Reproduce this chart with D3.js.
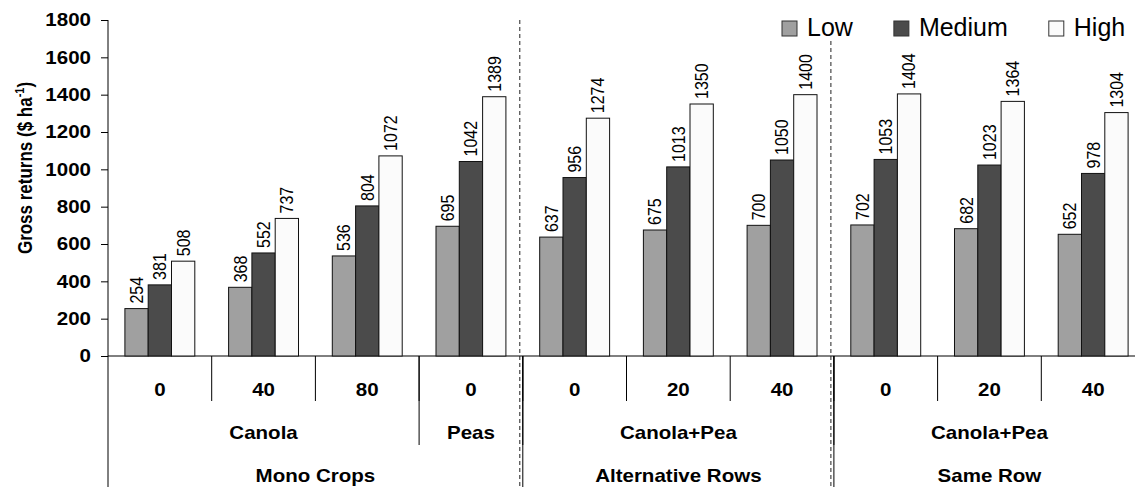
<!DOCTYPE html>
<html>
<head>
<meta charset="utf-8">
<script src="https://cdn.jsdelivr.net/npm/d3@7"></script>
<style>
  body { margin: 0; background: #fff; }
  text { font-family: "Liberation Sans", Arial, sans-serif; }
</style>
</head>
<body>
<svg id="chart" width="1135" height="487"></svg>
<script>
// data
const series = ["Low", "Medium", "High"];
const rateLabels = ["0", "40", "80", "0", "0", "20", "40", "0", "20", "40"];
const cropLabels = ["Canola", "Peas", "Canola+Pea", "Canola+Pea"];
const cropSpans = [3, 1, 3, 3];
const systemLabels = ["Mono Crops", "Alternative Rows", "Same Row"];
const systemSpans = [4, 3, 3];
const lowValues = [254, 368, 536, 695, 637, 675, 700, 702, 682, 652];
const mediumValues = [381, 552, 804, 1042, 956, 1013, 1050, 1053, 1023, 978];
const highValues = [508, 737, 1072, 1389, 1274, 1350, 1400, 1404, 1364, 1304];
const yTicks = [0, 200, 400, 600, 800, 1000, 1200, 1400, 1600, 1800];

const colors = { Low: "#a0a0a0", Medium: "#4b4b4b", High: "#fbfbfb" };
const stretch = 1.14; // the original text is a bit wider than it is tall

let svg = d3.select("#chart");
let padL = 108, padT = 20, baseY = 356, plotW = 1037;

let x0 = d3.scaleBand().domain(d3.range(rateLabels.length)).range([padL, padL + plotW]);
let x1 = d3.scaleBand().domain(series).range([0, x0.bandwidth()]).paddingOuter(0.725);
let y = d3.scaleLinear().domain([0, 1800]).range([baseY, padT]);

let rows = rateLabels.map(function(d, i) {
    return { i: i, Low: lowValues[i], Medium: mediumValues[i], High: highValues[i] };
});

function boldLabel(cx, by, txt) {
    svg.append("text")
        .attr("transform", "translate(" + cx + "," + by + ") scale(" + stretch + ",1)")
        .attr("text-anchor", "middle").attr("font-size", 18).attr("font-weight", "bold")
        .text(txt);
}

// y axis
let yAxis = svg.append("g")
    .attr("transform", "translate(" + padL + ",0)")
    .call(d3.axisLeft(y).tickValues(yTicks).tickFormat(d3.format("d")).tickSize(7).tickPadding(10));
yAxis.select(".domain").remove();
yAxis.selectAll("line").attr("stroke", "#000");
yAxis.selectAll("text")
    .attr("x", null)
    .attr("transform", "translate(-17,0) scale(" + stretch + ",1)")
    .attr("font-size", 18).attr("font-weight", "bold")
    .attr("font-family", "Liberation Sans, Arial, sans-serif").attr("fill", "#000");

svg.append("line").attr("x1", padL).attr("x2", padL).attr("y1", padT).attr("y2", 487).attr("stroke", "#000");
svg.append("line").attr("x1", padL).attr("x2", 1135).attr("y1", baseY).attr("y2", baseY).attr("stroke", "#000");

// y title
let title = svg.append("text")
    .attr("transform", "translate(32,168) rotate(-90) scale(1," + stretch + ")")
    .attr("text-anchor", "middle")
    .attr("font-size", 17).attr("font-weight", "bold");
title.append("tspan").text("Gross returns ($ ha");
title.append("tspan").attr("font-size", 11).attr("dy", -7).text("-1");
title.append("tspan").attr("dy", 7).text(")");

// dashed system separators
let bounds = [0];
systemSpans.forEach(function(s) { bounds.push(bounds[bounds.length - 1] + s); });
bounds.slice(1, -1).forEach(function(b) {
    svg.append("line").attr("x1", x0(b) - 3).attr("x2", x0(b) - 3)
        .attr("y1", padT).attr("y2", 487)
        .attr("stroke", "#222").attr("stroke-dasharray", "4,3");
});

// bars
let groups = svg.selectAll("g.grp").data(rows).enter().append("g")
    .attr("class", "grp")
    .attr("transform", function(d) { return "translate(" + x0(d.i) + ",0)"; });

groups.selectAll("rect").data(function(d) {
    return series.map(function(s) { return { key: s, value: d[s] }; });
}).enter().append("rect")
    .attr("x", function(d) { return x1(d.key); })
    .attr("y", function(d) { return y(d.value); })
    .attr("width", x1.bandwidth())
    .attr("height", function(d) { return baseY - y(d.value); })
    .attr("fill", function(d) { return colors[d.key]; })
    .attr("stroke", "#111").attr("stroke-width", 1);

groups.selectAll("text.val").data(function(d) {
    return series.map(function(s) { return { key: s, value: d[s] }; });
}).enter().append("text")
    .attr("class", "val")
    .attr("transform", function(d) {
        return "translate(" + (x1(d.key) + x1.bandwidth() / 2) + "," + (y(d.value) - 5) +
            ") rotate(-90) scale(1," + stretch + ")";
    })
    .attr("dy", "0.35em")
    .attr("font-size", 16)
    .text(function(d) { return d.value; });

// x axis, three rows of labels
rateLabels.forEach(function(lab, i) {
    boldLabel(x0(i) + x0.bandwidth() / 2, 396, lab);
    if (i > 0) {
        svg.append("line").attr("x1", x0(i)).attr("x2", x0(i)).attr("y1", baseY).attr("y2", 401).attr("stroke", "#000");
    }
});

let start = 0;
cropLabels.forEach(function(lab, k) {
    let a = x0(start), b = x0(start + cropSpans[k] - 1) + x0.bandwidth();
    boldLabel((a + b) / 2, 439, lab);
    if (start > 0) {
        svg.append("line").attr("x1", a).attr("x2", a).attr("y1", baseY).attr("y2", 445).attr("stroke", "#000");
    }
    start += cropSpans[k];
});

start = 0;
systemLabels.forEach(function(lab, k) {
    let a = x0(start), b = x0(start + systemSpans[k] - 1) + x0.bandwidth();
    boldLabel((a + b) / 2, 482, lab);
    if (start > 0) {
        svg.append("line").attr("x1", a).attr("x2", a).attr("y1", baseY).attr("y2", 487).attr("stroke", "#000");
    }
    start += systemSpans[k];
});

// legend
svg.append("rect").attr("x", 775).attr("y", 8).attr("width", 360).attr("height", 33).attr("fill", "#fff");
let lx = 782;
series.forEach(function(s) {
    svg.append("rect").attr("x", lx).attr("y", 21).attr("width", 15).attr("height", 15)
        .attr("fill", colors[s]).attr("stroke", "#333");
    let t = svg.append("text").attr("x", lx + 25).attr("y", 36).attr("font-size", 25).text(s);
    lx += 25 + t.node().getComputedTextLength() + 41;
});
</script>
</body>
</html>
